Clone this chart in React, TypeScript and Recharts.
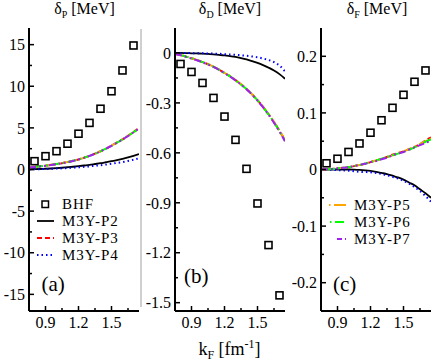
import React from 'react';
import { ComposedChart, Line, Scatter, XAxis, YAxis } from 'recharts';

const FONT = 'Liberation Serif, Times New Roman, Times, serif';

// kF grid for the model curves and for the BHF points
const KF = [0.75, 0.8, 0.85, 0.9, 0.95, 1.0, 1.05, 1.1, 1.15, 1.2, 1.25, 1.3, 1.35, 1.4, 1.45, 1.5, 1.55, 1.6, 1.65, 1.7, 1.75];
const BHF_KF = [0.8, 0.9, 1.0, 1.1, 1.2, 1.3, 1.4, 1.5, 1.6, 1.7];

const X_MAJOR = [0.9, 1.2, 1.5];
const X_MINOR = [1.05, 1.35, 1.65];

// (a) delta_P
const BHF_P = [1.0, 1.6, 2.2, 3.1, 4.3, 5.6, 7.3, 9.4, 11.9, 14.9];
const P2_P = [0.02, 0.04, 0.06, 0.09, 0.12, 0.16, 0.21, 0.27, 0.33, 0.4, 0.48, 0.56, 0.66, 0.76, 0.88, 1.0, 1.14, 1.29, 1.46, 1.65, 1.86];
const P3_P = [0.25, 0.31, 0.38, 0.46, 0.55, 0.65, 0.76, 0.89, 1.04, 1.21, 1.41, 1.64, 1.9, 2.19, 2.51, 2.86, 3.24, 3.62, 4.05, 4.5, 4.98];
const P4_P = [0.0, 0.02, 0.04, 0.06, 0.08, 0.11, 0.14, 0.18, 0.22, 0.27, 0.32, 0.38, 0.45, 0.52, 0.6, 0.69, 0.79, 0.9, 1.02, 1.17, 1.35];
const P5_P = [0.26, 0.32, 0.39, 0.47, 0.56, 0.66, 0.77, 0.9, 1.05, 1.22, 1.42, 1.65, 1.91, 2.2, 2.52, 2.87, 3.25, 3.63, 4.06, 4.52, 5.0];
const P6_P = [0.25, 0.31, 0.38, 0.46, 0.55, 0.65, 0.76, 0.89, 1.04, 1.21, 1.41, 1.64, 1.89, 2.18, 2.5, 2.85, 3.22, 3.61, 4.03, 4.48, 4.95];
const P7_P = [0.24, 0.3, 0.37, 0.45, 0.54, 0.64, 0.75, 0.88, 1.03, 1.2, 1.4, 1.63, 1.89, 2.18, 2.5, 2.85, 3.22, 3.6, 4.02, 4.47, 4.93];

// (b) delta_D
const BHF_D = [-0.066, -0.114, -0.18, -0.27, -0.382, -0.522, -0.696, -0.904, -1.154, -1.456];
const P2_D = [0, 0, -0.001, -0.002, -0.003, -0.004, -0.006, -0.008, -0.011, -0.015, -0.019, -0.024, -0.031, -0.039, -0.049, -0.06, -0.073, -0.088, -0.105, -0.127, -0.155];
const P3_D = [-0.005, -0.013, -0.022, -0.032, -0.043, -0.055, -0.068, -0.083, -0.1, -0.12, -0.14, -0.163, -0.188, -0.216, -0.248, -0.284, -0.324, -0.368, -0.416, -0.468, -0.525];
const P4_D = [0, 0, 0, -0.001, -0.001, -0.002, -0.003, -0.004, -0.005, -0.007, -0.009, -0.011, -0.014, -0.017, -0.021, -0.026, -0.033, -0.042, -0.055, -0.075, -0.11];
const P5_D = [-0.005, -0.012, -0.021, -0.031, -0.042, -0.054, -0.067, -0.082, -0.099, -0.119, -0.139, -0.162, -0.187, -0.215, -0.247, -0.283, -0.322, -0.366, -0.414, -0.466, -0.522];
const P6_D = [-0.006, -0.013, -0.022, -0.032, -0.043, -0.055, -0.068, -0.083, -0.1, -0.12, -0.141, -0.164, -0.189, -0.217, -0.249, -0.285, -0.325, -0.369, -0.417, -0.47, -0.528];
const P7_D = [-0.006, -0.014, -0.023, -0.033, -0.044, -0.056, -0.069, -0.084, -0.101, -0.121, -0.142, -0.165, -0.19, -0.218, -0.25, -0.286, -0.326, -0.37, -0.419, -0.472, -0.53];

// (c) delta_F
const BHF_F = [0.011, 0.019, 0.031, 0.046, 0.065, 0.087, 0.109, 0.132, 0.155, 0.175];
const P2_F = [0, 0, 0, 0, 0, 0, -0.0003, -0.0008, -0.0015, -0.0025, -0.004, -0.006, -0.008, -0.011, -0.014, -0.018, -0.023, -0.028, -0.035, -0.042, -0.05];
const P3_F = [0, 0.0005, 0.001, 0.002, 0.003, 0.004, 0.006, 0.008, 0.01, 0.013, 0.016, 0.019, 0.022, 0.026, 0.029, 0.032, 0.036, 0.04, 0.045, 0.051, 0.057];
const P4_F = [0, 0, -0.0005, -0.001, -0.0015, -0.002, -0.003, -0.004, -0.0045, -0.005, -0.006, -0.008, -0.01, -0.013, -0.016, -0.02, -0.025, -0.031, -0.038, -0.047, -0.057];
const P5_F = [0, 0.0005, 0.001, 0.002, 0.003, 0.004, 0.006, 0.008, 0.01, 0.013, 0.016, 0.019, 0.022, 0.025, 0.029, 0.032, 0.036, 0.04, 0.045, 0.05, 0.055];
const P6_F = [0, 0.0005, 0.001, 0.002, 0.003, 0.004, 0.006, 0.008, 0.01, 0.013, 0.016, 0.019, 0.022, 0.025, 0.028, 0.031, 0.035, 0.039, 0.044, 0.049, 0.053];
const P7_F = [0, 0.0005, 0.001, 0.002, 0.003, 0.004, 0.006, 0.008, 0.01, 0.013, 0.015, 0.018, 0.021, 0.025, 0.028, 0.031, 0.035, 0.039, 0.043, 0.047, 0.051];

const SERIES = [
  { key: 'p2', name: 'M3Y-P2', color: '#000000', dash: undefined, w: 1.8 },
  { key: 'p3', name: 'M3Y-P3', color: '#ff0000', dash: '5 3', w: 2 },
  { key: 'p4', name: 'M3Y-P4', color: '#0000ff', dash: '1.5 3', w: 2 },
  { key: 'p5', name: 'M3Y-P5', color: '#ffa500', dash: '9 3 2 3', w: 2 },
  { key: 'p6', name: 'M3Y-P6', color: '#00ff00', dash: '2 3 9 3', w: 2 },
  { key: 'p7', name: 'M3Y-P7', color: '#a020f0', dash: '7 3 2 3 2 3', w: 2 },
];

const TXT = { fontFamily: FONT };

function near(list: number[], v: number) {
  return list.some((m) => Math.abs(m - v) < 1e-9);
}

function fmtNum(v: number) {
  return String(Math.round(v * 1000) / 1000);
}

function leftTick(majors: number[]) {
  return (p: any) => {
    const v = p.payload.value;
    const big = near(majors, v);
    return (
      <g>
        <line x1={p.x} x2={p.x + (big ? 5 : 3)} y1={p.y} y2={p.y} stroke="#000" strokeWidth={1.5} />
        {big && (
          <text x={p.x - 4} y={p.y} dy="0.36em" textAnchor="end" style={TXT} fontSize={16} fill="#000">
            {fmtNum(v)}
          </text>
        )}
      </g>
    );
  };
}

function rightTick(majors: number[]) {
  return (p: any) => {
    const big = near(majors, p.payload.value);
    return <line x1={p.x} x2={p.x - (big ? 5 : 3)} y1={p.y} y2={p.y} stroke="#000" strokeWidth={1.5} />;
  };
}

const bottomTick = (p: any) => {
  const v = p.payload.value;
  const big = near(X_MAJOR, v);
  return (
    <g>
      <line x1={p.x} x2={p.x} y1={p.y} y2={p.y - (big ? 5 : 3)} stroke="#000" strokeWidth={1.5} />
      {big && (
        <text x={p.x} y={p.y + 17} textAnchor="middle" style={TXT} fontSize={16} fill="#000">
          {v.toFixed(1)}
        </text>
      )}
    </g>
  );
};

const topTick = (p: any) => {
  const big = near(X_MAJOR, p.payload.value);
  return <line x1={p.x} x2={p.x} y1={p.y} y2={p.y + (big ? 5 : 3)} stroke="#000" strokeWidth={1.5} />;
};

const squareShape = (p: any) => (
  <rect x={p.cx - 3.5} y={p.cy - 3.5} width={7} height={7} fill="none" stroke="#000" strokeWidth={1.6} />
);

const FRAME = { stroke: '#000', strokeWidth: 2 };

type PanelProps = {
  left: number;
  width: number;
  right: number;
  yDomain: [number, number];
  yMajor: number[];
  yMinor: number[];
  curves: number[][];
  bhf: number[];
};

function Panel({ left, width, right, yDomain, yMajor, yMinor, curves, bhf }: PanelProps) {
  const rows = KF.map((k, i) => {
    const row: Record<string, number> = { k };
    SERIES.forEach((s, j) => {
      row[s.key] = curves[j][i];
    });
    return row;
  });
  const points = BHF_KF.map((k, i) => ({ k, v: bhf[i] }));
  const yTicks = [...yMajor, ...yMinor].sort((a, b) => a - b);
  const xTicks = [...X_MAJOR, ...X_MINOR].sort((a, b) => a - b);

  return (
    <div style={{ position: 'absolute', left, top: 0 }}>
      <ComposedChart width={width} height={364} data={rows} margin={{ top: 28, right, bottom: 23, left: 0 }}>
        <XAxis
          xAxisId="b"
          dataKey="k"
          type="number"
          domain={[0.75, 1.75]}
          ticks={xTicks}
          interval={0}
          height={30}
          tickSize={0}
          tickMargin={0}
          tickLine={false}
          axisLine={FRAME}
          tick={bottomTick}
          allowDataOverflow
        />
        <XAxis
          xAxisId="t"
          orientation="top"
          type="number"
          domain={[0.75, 1.75]}
          ticks={xTicks}
          interval={0}
          height={0}
          tickSize={0}
          tickMargin={0}
          tickLine={false}
          axisLine={FRAME}
          tick={topTick}
          allowDataOverflow
        />
        <YAxis
          yAxisId="l"
          type="number"
          domain={yDomain}
          ticks={yTicks}
          interval={0}
          width={29}
          tickSize={0}
          tickMargin={0}
          tickLine={false}
          axisLine={FRAME}
          tick={leftTick(yMajor)}
          allowDataOverflow
        />
        <YAxis
          yAxisId="r"
          orientation="right"
          type="number"
          domain={yDomain}
          ticks={yTicks}
          interval={0}
          width={0}
          tickSize={0}
          tickMargin={0}
          tickLine={false}
          axisLine={FRAME}
          tick={rightTick(yMajor)}
          allowDataOverflow
        />
        {SERIES.map((s) => (
          <Line
            key={s.key}
            xAxisId="b"
            yAxisId="l"
            type="monotone"
            dataKey={s.key}
            stroke={s.color}
            strokeWidth={s.w}
            strokeDasharray={s.dash}
            dot={false}
            activeDot={false}
            isAnimationActive={false}
          />
        ))}
        <Scatter
          xAxisId="b"
          yAxisId="l"
          data={points}
          dataKey="v"
          shape={squareShape}
          isAnimationActive={false}
        />
      </ComposedChart>
    </div>
  );
}

function Title({ x, sub }: { x: number; sub: string }) {
  return (
    <text x={x} y={14} textAnchor="middle" style={TXT} fontSize={16} fill="#000">
      <tspan>δ</tspan>
      <tspan dy={4} fontSize={10}>{sub}</tspan>
      <tspan dy={-4}> [MeV]</tspan>
    </text>
  );
}

function LegendText({ x, y, label }: { x: number; y: number; label: string }) {
  return (
    <text x={x} y={y + 5} style={{ ...TXT, letterSpacing: 1 }} fontSize={15} fill="#000">
      {label}
    </text>
  );
}

export default function App() {
  return (
    <div style={{ position: 'absolute', left: 0, top: 0, width: 434, height: 364, background: '#fff' }}>
      <Panel
        left={0}
        width={146}
        right={7}
        yDomain={[-17, 17]}
        yMajor={[-15, -10, -5, 0, 5, 10, 15]}
        yMinor={[-12.5, -7.5, -2.5, 2.5, 7.5, 12.5]}
        curves={[P2_P, P3_P, P4_P, P5_P, P6_P, P7_P]}
        bhf={BHF_P}
      />
      <Panel
        left={146}
        width={146}
        right={7}
        yDomain={[-1.55, 0.15]}
        yMajor={[-1.5, -1.2, -0.9, -0.6, -0.3, 0]}
        yMinor={[-1.35, -1.05, -0.75, -0.45, -0.15]}
        curves={[P2_D, P3_D, P4_D, P5_D, P6_D, P7_D]}
        bhf={BHF_D}
      />
      <Panel
        left={292}
        width={142}
        right={3}
        yDomain={[-0.25, 0.25]}
        yMajor={[-0.2, -0.1, 0, 0.1, 0.2]}
        yMinor={[-0.15, -0.05, 0.05, 0.15]}
        curves={[P2_F, P3_F, P4_F, P5_F, P6_F, P7_F]}
        bhf={BHF_F}
      />
      <svg width={434} height={364} style={{ position: 'absolute', left: 0, top: 0, pointerEvents: 'none' }}>
        <line x1={141} x2={141} y1={29} y2={307} stroke="#a0a0a0" strokeWidth={1} />
        <Title x={84.5} sub="P" />
        <Title x={230} sub="D" />
        <Title x={377} sub="F" />

        <text x={229.5} y={355} textAnchor="middle" style={TXT} fontSize={18} fill="#000">
          <tspan>k</tspan>
          <tspan dy={4} fontSize={12}>F</tspan>
          <tspan dy={-4}> [fm</tspan>
          <tspan dy={-7} fontSize={12}>-1</tspan>
          <tspan dy={7}>]</tspan>
        </text>

        <text x={41.5} y={291} style={TXT} fontSize={21} fill="#000">(a)</text>
        <text x={184} y={283} style={TXT} fontSize={21} fill="#000">(b)</text>
        <text x={333} y={291} style={TXT} fontSize={21} fill="#000">(c)</text>

        {/* legend (a) */}
        <rect x={42} y={201} width={6.5} height={6.5} fill="none" stroke="#000" strokeWidth={1.5} />
        <LegendText x={62} y={204} label="BHF" />
        <line x1={37} x2={54} y1={221} y2={221} stroke="#000" strokeWidth={1.8} />
        <LegendText x={62} y={221} label="M3Y-P2" />
        <line x1={37} x2={54} y1={238} y2={238} stroke="#ff0000" strokeWidth={2} strokeDasharray="5 3" />
        <LegendText x={62} y={238} label="M3Y-P3" />
        <line x1={37} x2={54} y1={255} y2={255} stroke="#0000ff" strokeWidth={2} strokeDasharray="1.5 3" />
        <LegendText x={62} y={255} label="M3Y-P4" />

        {/* legend (c) */}
        <line x1={329} x2={346} y1={205} y2={205} stroke="#ffa500" strokeWidth={2} strokeDasharray="1.5 3.5 12 0" />
        <LegendText x={354} y={205} label="M3Y-P5" />
        <line x1={330} x2={346} y1={222} y2={222} stroke="#00ff00" strokeWidth={2} strokeDasharray="1.5 3.5 9 3" />
        <LegendText x={354} y={222} label="M3Y-P6" />
        <line x1={337} x2={346} y1={239} y2={239} stroke="#a020f0" strokeWidth={2} strokeDasharray="5 3 1.5 3" />
        <LegendText x={354} y={239} label="M3Y-P7" />
      </svg>
    </div>
  );
}
